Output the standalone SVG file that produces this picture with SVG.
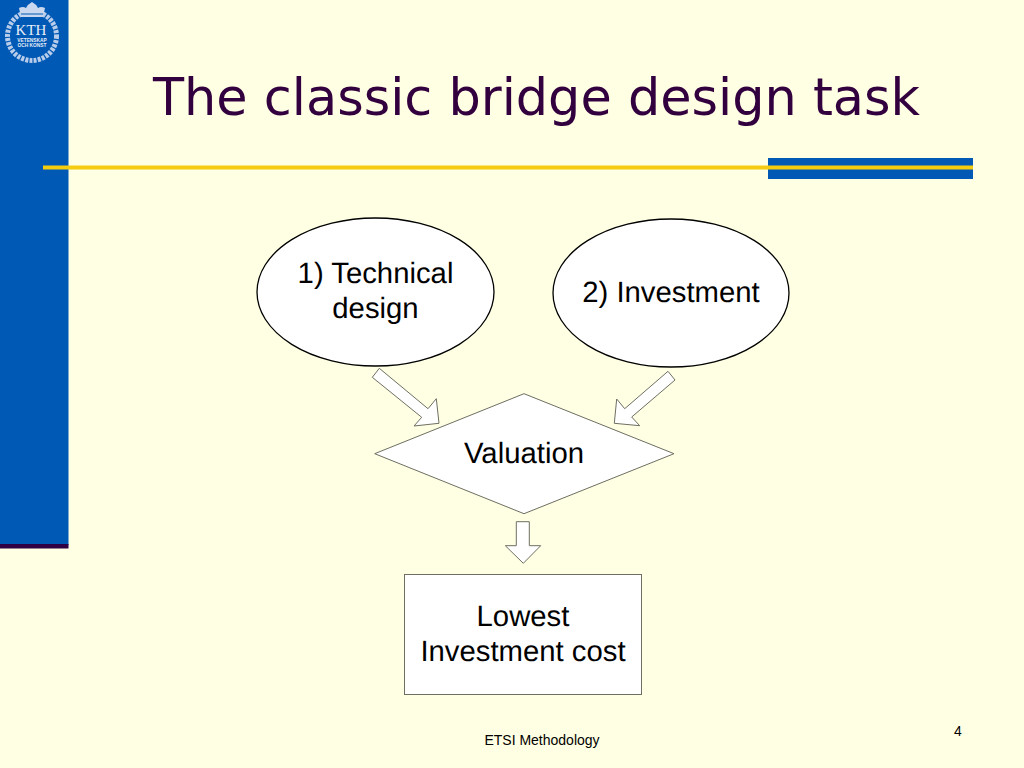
<svg xmlns="http://www.w3.org/2000/svg" width="1024" height="768" viewBox="0 0 1024 768">
<style>
.lab{font-family:"Liberation Sans",Arial,sans-serif;font-size:29.300px;fill:#000;text-anchor:middle;text-rendering:geometricPrecision}
.node{fill:#fff;stroke:#000;stroke-width:1.3}
.thin{fill:#fff;stroke:#6e6e62;stroke-width:1}
.logo{fill:#e8eef8;text-anchor:middle}
</style>
<rect width="1024" height="768" fill="#ffffe3"/>
<rect x="0" y="0" width="68.500" height="545" fill="#0059b5"/>
<rect x="0" y="544" width="68.500" height="4.500" fill="#2f0044"/>
<rect x="768" y="158" width="205" height="21" fill="#0059b5"/>
<rect x="43" y="165.500" width="930" height="4" fill="#f5cc0f"/>
<g id="logo">
<circle cx="32" cy="36" r="24.500" fill="none" stroke="#b9cdea" stroke-width="5" stroke-dasharray="3 1.200"/>
<path d="M21 17 L19 8 Q23 6 26 8 Q28 4 32 2 Q36 4 38 8 Q41 6 45 8 L43 17 Z" fill="#c9d8ee"/>
<path d="M21 14 H43" stroke="#0059b5" stroke-width="1" fill="none"/>
<text x="31" y="35" class="logo" font-family="Liberation Serif,serif" font-size="15">KTH</text>
<text x="32" y="41.500" class="logo" font-family="Liberation Sans,sans-serif" font-size="4.800" font-weight="bold">VETENSKAP</text>
<text x="32" y="47" class="logo" font-family="Liberation Sans,sans-serif" font-size="4.800" font-weight="bold">OCH KONST</text>
</g>
<text id="title" x="153" y="115" font-family="DejaVu Sans,sans-serif" font-size="50.900" fill="#33003f">The classic bridge design task</text>
<g id="connectors">
<polygon class="thin" points="379.300,368.300 372.300,377.300 421.700,417.300 414,426 439,423.300 436.300,398.700 428,408.700"/>
<polygon class="thin" points="668,371.300 675,380 631.700,417 639.700,425.700 614.300,423.300 616.700,399 624.700,408.700"/>
<polygon class="thin" points="516.300,521.700 529.300,521.700 529.300,545.700 540.700,545.700 523.300,563.300 505.300,545.700 516.300,545.700"/>
</g>
<g id="technical"><ellipse class="node" cx="375.500" cy="292" rx="118.500" ry="74"/>
<text class="lab" x="375.500" y="283">1) Technical</text><text class="lab" x="375.500" y="318">design</text></g>
<g id="investment"><ellipse class="node" cx="671" cy="293" rx="118" ry="74"/>
<text class="lab" x="671" y="302">2) Investment</text></g>
<g id="valuation"><polygon class="thin" points="524,393.700 674,453.700 524,513.700 374.700,453.700"/>
<text class="lab" x="524" y="463">Valuation</text></g>
<g id="cost"><rect class="thin" x="404.500" y="574.500" width="237" height="120"/>
<text class="lab" x="523" y="626">Lowest</text><text class="lab" x="523" y="661">Investment cost</text></g>
<text id="footer" x="542" y="745" font-family="Liberation Sans,sans-serif" font-size="14" text-anchor="middle">ETSI Methodology</text>
<text id="page" x="958" y="736" font-family="Liberation Sans,sans-serif" font-size="14" text-anchor="middle">4</text>
</svg>
